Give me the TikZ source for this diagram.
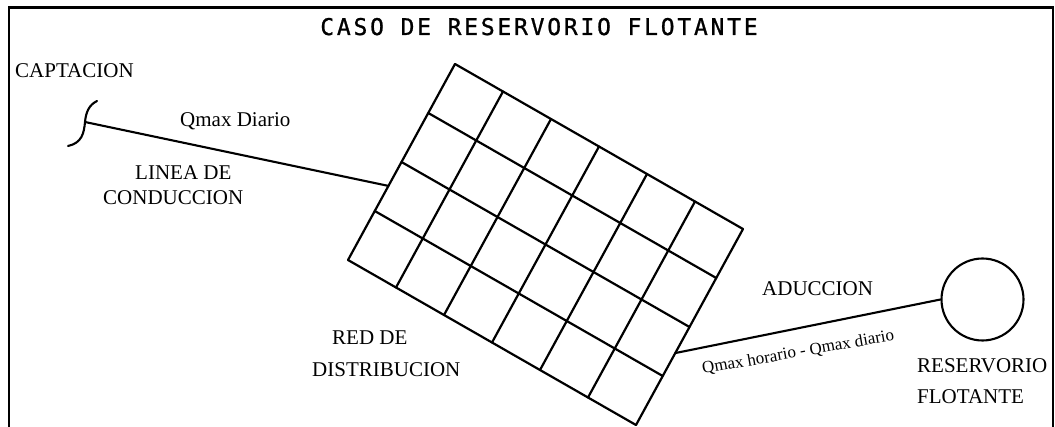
\documentclass[tikz,border=0pt]{standalone}
\usepackage{fontspec}
\setmainfont{Liberation Serif}
\newfontfamily\titlefont[LetterSpace=12,FakeBold=1]{DejaVu Sans Mono}
\usetikzlibrary{calc}
\tikzset{
  lbl/.style={inner sep=0pt, anchor=base west, font=\fontsize{21}{25}\selectfont},
  smalllbl/.style={inner sep=0pt, anchor=base west, font=\fontsize{17}{20}\selectfont},
  gridline/.style={line width=2.2pt, line cap=round},
  pipe/.style={line width=2.1pt, line cap=round},
  frame/.style={line width=2.2pt},
  tank/.style={draw, circle, line width=2.1pt, minimum size=82pt, inner sep=0pt}
}
\begin{document}
\begin{tikzpicture}[x=1pt,y=-1pt]
\useasboundingbox (0,0) rectangle (1055,427);
% frame (bottom edge lies outside the picture)
\draw[frame] (9,440) -- (9,7.5) -- (1053,7.5) -- (1053,440);
% title
\node[inner sep=0pt, anchor=base, font=\titlefont\fontsize{23}{27}\selectfont] (title) at (539,35) {CASO DE RESERVORIO FLOTANTE};
% grid corners
\coordinate (T) at (455,64);
\coordinate (R) at (743,229);
\coordinate (L) at (348,260);
\coordinate (B) at (636,425);
\foreach \i in {0,...,4} {
  \draw[gridline] ($(T)!\i/4!(L)$) -- ($(R)!\i/4!(B)$);
}
\foreach \j in {0,...,6} {
  \draw[gridline] ($(T)!\j/6!(R)$) -- ($(L)!\j/6!(B)$);
}
\coordinate (gin) at ($(T)!0.622!(L)$);
\coordinate (gout) at ($(R)!0.633!(B)$);
% captacion squiggle
\coordinate (cap) at (85,122);
\draw[pipe] (97,101) .. controls (89,105) and (86,112) .. (cap) .. controls (84,133) and (82,143) .. (68,146);
% conduction line
\draw[pipe] (cap) -- (gin);
% reservoir
\node[tank] (res) at (982.5,299.5) {};
\draw[pipe] (gout) -- (res.west);
% labels
\node[lbl] (lcap) at (15,78) {CAPTACION};
\node[lbl] (lqd) at (180,127) {Qmax Diario};
\node[lbl] (llin1) at (135,180) {LINEA DE};
\node[lbl] (llin2) at (103,205) {CONDUCCION};
\node[lbl] (lred1) at (332,345) {RED DE};
\node[lbl] (lred2) at (312,377) {DISTRIBUCION};
\node[lbl] (ladu) at (762,296) {ADUCCION};
\node[lbl] (lres1) at (917,373) {RESERVORIO};
\node[lbl] (lres2) at (917,404) {FLOTANTE};
\node[smalllbl, rotate=10] (lqh) at (703,374) {Qmax horario - Qmax diario};
\end{tikzpicture}
\end{document}
